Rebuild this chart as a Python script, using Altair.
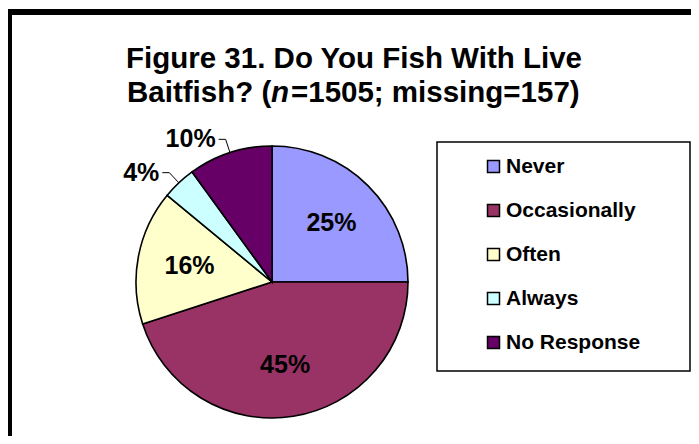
import altair as alt
import pandas as pd

# ---- data ----
categories = ["Never", "Occasionally", "Often", "Always", "No Response"]
percents = [25, 45, 16, 4, 10]
colors = ["#9999FF", "#993366", "#FFFFCC", "#CCFFFF", "#660066"]

title_line1 = "Figure 31. Do You Fish With Live"
title_line2 = ["Baitfish? (", "n", "=1505; missing=157)"]

df = pd.DataFrame({
    "category": categories,
    "value": percents,
    "order": list(range(len(categories))),
})
one = pd.DataFrame({"k": [0]})

FONT = "Liberation Sans"
W, H = 683, 428
CX, CY, R = 264, 274, 136      # pie centre / radius (view px)
R_IN = 84                      # inside label radius
R_ELB = 150                    # leader elbow radius

base = alt.Chart(df)

# outer frame of the chart (only top and left edges are inside the picture)
frame_top = alt.Chart(one).mark_rule(color="black", strokeWidth=6).encode(
    x=alt.value(0), x2=alt.value(W), y=alt.value(4)
)
frame_left = alt.Chart(one).mark_rule(color="black", strokeWidth=6).encode(
    x=alt.value(1), y=alt.value(1), y2=alt.value(H)
)

# legend box
legend_box = alt.Chart(one).mark_rect(fill="white", stroke="black", strokeWidth=1.5).encode(
    x=alt.value(429), y=alt.value(134), x2=alt.value(682), y2=alt.value(363)
)

pie = base.mark_arc(radius=R, stroke="black", strokeWidth=1.6).encode(
    theta=alt.Theta("value:Q", stack=True),
    order=alt.Order("order:Q"),
    color=alt.Color(
        "category:N",
        scale=alt.Scale(domain=categories, range=colors),
        legend=alt.Legend(
            orient="none", legendX=475, legendY=148, title=None,
            symbolType="square", symbolSize=144, symbolStrokeColor="black",
            symbolStrokeWidth=1.5, symbolOpacity=1,
            labelFont=FONT, labelFontSize=21, labelFontWeight="bold",
            labelColor="black", labelOffset=2, rowPadding=22, padding=0,
            labelLimit=400,
        ),
    ),
    x=alt.value(CX), y=alt.value(CY),
)

inner = base.transform_calculate(
    lab="datum.value >= 15 ? datum.value + '%' : ''"
).mark_text(radius=R_IN, font=FONT, fontSize=25, fontWeight="bold", color="black").encode(
    theta=alt.Theta("value:Q", stack=True),
    order=alt.Order("order:Q"),
    text="lab:N",
    x=alt.value(CX), y=alt.value(CY),
)

geo = base.transform_window(
    cum="sum(value)", sort=[alt.SortField("order")], frame=[None, 0]
).transform_joinaggregate(total="sum(value)").transform_calculate(
    mid="(datum.cum - datum.value/2) / datum.total * 2 * PI"
).transform_calculate(
    ex=f"{CX} + {R} * sin(datum.mid)",
    ey=f"{CY} - {R} * cos(datum.mid)",
    bx=f"{CX} + {R_ELB} * sin(datum.mid)",
    by=f"{CY} - {R_ELB} * cos(datum.mid)",
).transform_calculate(
    hx="datum.bx + (sin(datum.mid) < 0 ? -7 : 7)",
).transform_calculate(
    lx="datum.hx + (sin(datum.mid) < 0 ? -3 : 3)",
    lab="datum.value + '%'",
).transform_filter("datum.value < 15")

lead1 = geo.mark_rule(color="black", strokeWidth=1).encode(
    x=alt.X("ex:Q", scale=None, axis=None), y=alt.Y("ey:Q", scale=None, axis=None),
    x2="bx:Q", y2="by:Q",
)
lead2 = geo.mark_rule(color="black", strokeWidth=1).encode(
    x=alt.X("bx:Q", scale=None, axis=None), y=alt.Y("by:Q", scale=None, axis=None),
    x2="hx:Q", y2="by:Q",
)
outer = geo.mark_text(align="right", baseline="middle", font=FONT, fontSize=25,
                      fontWeight="bold", color="black").encode(
    x=alt.X("lx:Q", scale=None, axis=None), y=alt.Y("by:Q", scale=None, axis=None),
    text="lab:N",
)

TS = 29.5
t1 = alt.Chart(one).mark_text(font=FONT, fontSize=TS, fontWeight="bold", color="black",
                              align="center", baseline="alphabetic").encode(
    x=alt.value(346), y=alt.value(60), text=alt.value(title_line1))
t2a = alt.Chart(one).mark_text(font=FONT, fontSize=TS, fontWeight="bold", color="black",
                               align="left", baseline="alphabetic").encode(
    x=alt.value(119), y=alt.value(94), text=alt.value(title_line2[0]))
t2b = alt.Chart(one).mark_text(font=FONT, fontSize=TS, fontWeight="bold", fontStyle="italic",
                               color="black", align="left", baseline="alphabetic").encode(
    x=alt.value(263), y=alt.value(94), text=alt.value(title_line2[1]))
t2c = alt.Chart(one).mark_text(font=FONT, fontSize=TS, fontWeight="bold", color="black",
                               align="left", baseline="alphabetic").encode(
    x=alt.value(283), y=alt.value(94), text=alt.value(title_line2[2]))

chart = alt.layer(
    frame_top, frame_left, legend_box, pie, inner, lead1, lead2, outer, t1, t2a, t2b, t2c
).properties(
    width=W, height=H,
    autosize=alt.AutoSizeParams(type="none"),
    padding=0,
    background="white",
).configure_view(strokeWidth=0)

chart.save("out.html", embed_options={"renderer": "svg", "actions": False})
